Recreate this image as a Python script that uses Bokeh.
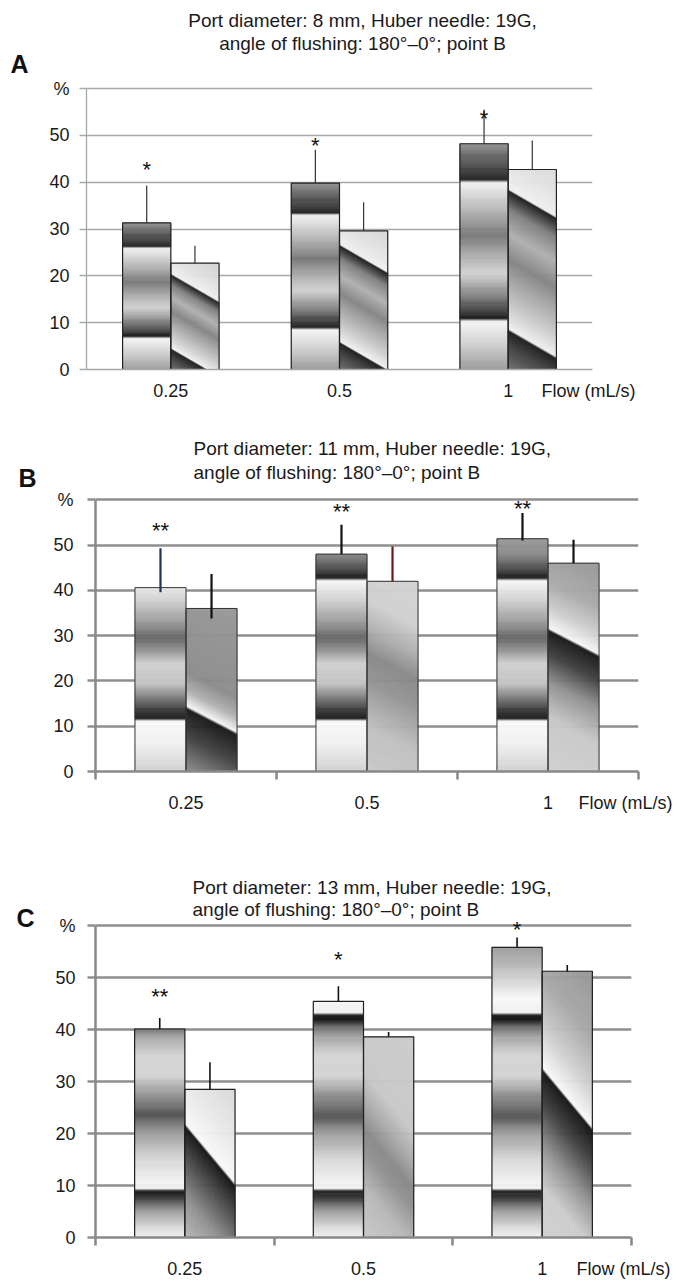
import numpy as np
from bokeh.plotting import figure
from bokeh.models import Range1d, FixedTicker, Label, ColumnDataSource, LinearAxis
from bokeh.layouts import column
from bokeh.embed import file_html
from bokeh.resources import INLINE
from bokeh.core.properties import value

FONT = "Liberation Sans"

categories = ["0.25", "0.5", "1"]
y_ticks = [0, 10, 20, 30, 40, 50, 60]

# Panel A: port 8 mm
a_bar1 = [31.3, 39.8, 48.2]
a_bar2 = [22.7, 29.6, 42.7]
a_err1_hi = [39.3, 46.9, 55.5]
a_err2_hi = [26.4, 35.7, 48.9]
a_marks = ["*", "*", "*"]
a_mark_y = [42.7, 47.8, 53.7]

# Panel B: port 11 mm
b_bar1 = [40.6, 48.0, 51.4]
b_bar2 = [36.0, 42.0, 46.0]
b_err1_lo = [39.6, 48.0, 51.0]
b_err1_hi = [49.3, 54.5, 57.1]
b_err2_lo = [33.8, 42.0, 46.0]
b_err2_hi = [43.6, 49.7, 51.2]
b_marks = ["**", "**", "**"]
b_mark_y = [53.2, 57.5, 58.1]

# Panel C: port 13 mm
c_bar1 = [40.1, 45.4, 55.8]
c_bar2 = [28.5, 38.6, 51.2]
c_err1_hi = [42.2, 48.3, 57.7]
c_err2_hi = [33.7, 39.5, 52.4]
c_marks = ["**", "*", "*"]
c_mark_y = [46.3, 53.5, 59.3]

titles = {
    "A": ["Port diameter: 8 mm, Huber needle: 19G,", "angle of flushing: 180°\u20130°; point B"],
    "B": ["Port diameter: 11 mm, Huber needle: 19G,", "angle of flushing: 180°\u20130°; point B"],
    "C": ["Port diameter: 13 mm, Huber needle: 19G,", "angle of flushing: 180°\u20130°; point B"],
}

# ---- styling: metallic fills, as (position, grey level) stops ----
grad_a = [(0.00, 0x9a), (0.11, 0xcf), (0.215, 0xf5), (0.228, 0x1c), (0.26, 0x40),
          (0.336, 0x8a), (0.426, 0xd2), (0.50, 0xb0), (0.596, 0x78), (0.68, 0xa8),
          (0.744, 0xc8), (0.83, 0xf2), (0.842, 0x1e), (0.88, 0x40), (0.95, 0x6a),
          (1.00, 0x92)]
grad_b = [(0, 0xd0), (6, 0xf0), (11.2, 0xfa), (11.8, 0x1a), (13.5, 0x38), (16.5, 0x80),
          (19.5, 0xc4), (24, 0xd0), (27, 0x90), (29.6, 0x66), (33, 0x9a), (38, 0xd2),
          (42.2, 0xf8), (42.8, 0x1c), (45, 0x50), (48, 0x8a), (55, 0xa8)]
grad_c = [(0, 0xf0), (2, 0xdc), (5, 0xa0), (7.5, 0x44), (9.0, 0x1a), (9.5, 0xf5),
          (11, 0xf0), (15, 0xd8), (20, 0xa0), (23.5, 0x55), (27, 0x8a), (31, 0xd2),
          (35, 0xd5), (38.5, 0xa8), (40.5, 0x70), (41.8, 0x1a), (42.8, 0x22),
          (43.3, 0xf0), (46, 0xf8), (50, 0xd0), (55, 0xa0), (60, 0x90)]
# second bar: diagonal bands (position measured where a band meets the bar's left edge)
diag_a = [[(0.0, 0x70), (0.12, 0x40), (0.195, 0x1c), (0.205, 0xf0), (0.30, 0xd0),
           (0.45, 0xa4), (0.55, 0x84), (0.68, 0xb0), (0.80, 0x80), (0.895, 0x1c),
           (0.905, 0xf0), (1.05, 0xe0), (1.40, 0xc8)]] * 3
diag_b = [[(0, 0x90), (8, 0x40), (14, 0x18), (14.6, 0xf5), (18, 0xb0), (22, 0x8c),
           (36, 0x94), (50, 0xa0)],
          [(0, 0xc8), (10, 0xc0), (20, 0x94), (26, 0x88), (32, 0xb0), (38, 0xd0),
           (70, 0xd4)],
          [(0, 0xd0), (12, 0xc8), (20, 0x90), (26, 0x40), (31.2, 0x18), (31.8, 0xf5),
           (36, 0xd0), (42, 0xaa), (50, 0x9a), (80, 0x99)]]
diag_c = [[(0, 0xb8), (8, 0x90), (15, 0x50), (21.5, 0x14), (22.1, 0xf8), (30, 0xe8),
           (40, 0xd8), (90, 0xd0)],
          [(0, 0xc8), (10, 0xb8), (17, 0x90), (21, 0x88), (26, 0xa8), (32, 0xc8),
           (90, 0xd2)],
          [(0, 0xd0), (10, 0xcc), (18, 0x90), (26, 0x40), (32.2, 0x14), (32.8, 0xf8),
           (40, 0xd0), (50, 0xa8), (60, 0x99), (120, 0x99)]]

W = 679


def grey(levels):
    return ["#%02x%02x%02x" % (v, v, v) for v in levels]


def clip(poly, a, b, c):
    """keep the part of a convex polygon where a*x + b*y <= c"""
    out = []
    n = len(poly)
    for i in range(n):
        P, Q = poly[i], poly[(i + 1) % n]
        fp = a * P[0] + b * P[1] - c
        fq = a * Q[0] + b * Q[1] - c
        if fp <= 0:
            out.append(P)
        if fp * fq < 0:
            t = fp / (fp - fq)
            out.append((P[0] + t * (Q[0] - P[0]), P[1] + t * (Q[1] - P[1])))
    return out


def panel(letter, page_top, h, frame, bw, bar1, bar2, lo1, hi1, lo2, hi2,
          marks, mark_y, st):
    fl, fr, y60, fb = frame          # page pixels: left, right, 60-line, 0-line
    y_end = 60.0 * (fb - page_top) / (fb - y60)
    p = figure(width=W, height=h, x_range=Range1d(0, 3), y_range=Range1d(0, y_end),
               output_backend="svg", toolbar_location=None,
               min_border_left=fl, min_border_right=W - fr,
               min_border_top=0, min_border_bottom=page_top + h - fb)
    try:
        p.frame_align = False
    except Exception:
        pass
    p.outline_line_color = None
    p.background_fill_color = "white"
    p.border_fill_color = "white"

    def dx(px):
        return (px - fl) / (fr - fl) * 3.0

    def dy(py):
        return (fb - py) / (fb - y60) * 60.0

    xc = np.arange(len(categories)) + 0.5
    src = ColumnDataSource(dict(
        x1=xc - bw / 2, x2=xc + bw / 2, b1=bar1, b2=bar2,
        lo1=lo1, hi1=hi1, lo2=lo2, hi2=hi2,
        c1=st["ec1"], c2=st["ec2"], m=marks, my=mark_y))

    # horizontal chrome bands inside the first bar of each pair
    gpos = [g[0] for g in st["grad"]]
    gval = [g[1] for g in st["grad"]]
    L, R, B, T, C = [], [], [], [], []
    for x, top in zip(xc - bw / 2, bar1):
        n = int(np.ceil(top / 0.2))
        edges = np.linspace(0, top, n + 1)
        mids = (edges[:-1] + edges[1:]) / 2
        pos = mids / top if st["relative"] else mids
        g = np.interp(pos, gpos, gval).round().astype(int)
        L += [x - bw / 2] * n
        R += [x + bw / 2] * n
        B += list(edges[:-1])
        T += list(edges[1:])
        C += grey(g)
    p.quad(left=L, right=R, bottom=B, top=T, fill_color=C, line_color=C, line_width=0.6)

    # diagonal chrome bands inside the second bar of each pair
    k = st["slope"] * ((fr - fl) / 3.0) / ((fb - y60) / 60.0)
    XS, YS, DC = [], [], []
    for x, top, stops in zip(xc + bw / 2, bar2, st["diag"]):
        xl, xr = x - bw / 2, x + bw / 2
        rect = [(xl, 0.0), (xr, 0.0), (xr, top), (xl, top)]
        umax = top + k * bw
        n = int(np.ceil(umax / 0.2))
        edges = np.linspace(0, umax, n + 1)
        spos = [s[0] for s in stops]
        sval = [s[1] for s in stops]
        for u0, u1 in zip(edges[:-1], edges[1:]):
            poly = clip(rect, k, 1.0, u1 + k * xl)
            poly = clip(poly, -k, -1.0, -(u0 + k * xl))
            if len(poly) < 3:
                continue
            um = (u0 + u1) / 2
            pos = um / top if st["diag_rel"] else um
            v = int(round(float(np.interp(pos, spos, sval))))
            XS.append([q[0] for q in poly])
            YS.append([q[1] for q in poly])
            DC.append("#%02x%02x%02x" % (v, v, v))
    p.patches(xs=XS, ys=YS, fill_color=DC, line_color=DC, line_width=0.6)

    p.vbar(x="x1", top="b1", bottom=0, width=bw, source=src,
           fill_color=None, line_color=st["bl"], line_width=st["blw"])
    p.vbar(x="x2", top="b2", bottom=0, width=bw, source=src,
           fill_color=None, line_color=st["bl"], line_width=st["blw"])
    p.segment(x0="x1", x1="x1", y0="lo1", y1="hi1", source=src,
              line_color="c1", line_width=st["ew"])
    p.segment(x0="x2", x1="x2", y0="lo2", y1="hi2", source=src,
              line_color="c2", line_width=st["ew"])
    p.text(x="x1", y="my", text="m", source=src, text_align="center",
           text_baseline="middle", text_font=value(FONT),
           text_font_size="22px", text_color="#111111")

    # y axis
    yax = p.yaxis[0]
    yax.ticker = FixedTicker(ticks=y_ticks)
    yax.bounds = (0, 60)
    yax.major_label_overrides = {60: "%"}
    yax.axis_line_color = st["ax"]
    yax.axis_line_width = st["axw"]
    yax.major_tick_line_color = st["grid"]
    yax.major_tick_line_width = st["gw"]
    yax.major_tick_out = st["yto"]
    yax.major_tick_in = 0
    yax.minor_tick_line_color = None
    yax.major_label_standoff = st["ystand"]
    yax.major_label_text_font = FONT
    yax.major_label_text_font_size = "18px"
    yax.major_label_text_color = "#1a1a1a"

    # panel letter, as the label of an outer left axis
    lv = round(dy(st["letter_y"]), 3)
    lax = LinearAxis(ticker=FixedTicker(ticks=[lv]), major_label_overrides={lv: letter},
                     axis_line_color=None, major_tick_line_color=None,
                     minor_tick_line_color=None, major_tick_out=0, major_tick_in=0,
                     major_label_standoff=st["lstand"], major_label_text_font=FONT,
                     major_label_text_font_style="bold",
                     major_label_text_font_size="25px", major_label_text_color="#111111")
    p.add_layout(lax, "left")

    # x axis: category labels and the axis title as one more tick label
    fv = round(dx(st["flow_x"]), 3)
    xax = p.xaxis[0]
    xax.ticker = FixedTicker(ticks=list(xc) + [fv], minor_ticks=st["xminor"])
    labels = {float(v): c for v, c in zip(xc, categories)}
    labels[fv] = "Flow (mL/s)"
    xax.major_label_overrides = labels
    xax.bounds = (0, 3)
    xax.axis_line_color = st["ax"]
    xax.axis_line_width = st["axw"]
    xax.major_tick_out = 0
    xax.major_tick_in = 0
    xax.major_tick_line_color = None
    xax.minor_tick_line_color = st["ax"]
    xax.minor_tick_line_width = st["axw"]
    xax.minor_tick_out = 8
    xax.minor_tick_in = 0
    xax.major_label_standoff = st["xstand"]
    xax.major_label_text_font = FONT
    xax.major_label_text_font_size = "18px"
    xax.major_label_text_color = "#1a1a1a"

    p.xgrid.visible = False
    p.ygrid.ticker = FixedTicker(ticks=y_ticks)
    p.ygrid.grid_line_color = st["grid"]
    p.ygrid.grid_line_width = st["gw"]
    p.ygrid.level = "underlay"

    # panel title (two lines)
    tx, talign = st["title_x"], st["title_align"]
    for t, ty in zip(titles[letter], st["title_y"]):
        p.add_layout(Label(x=dx(tx), y=dy(ty), text=t, text_align=talign,
                           text_baseline="middle", text_font=FONT,
                           text_font_size="19px", text_color="#1a1a1a"))
    return p


sa = dict(grad=grad_a, relative=True, diag=diag_a, diag_rel=True, slope=0.58,
          bl="#222222", blw=1.2,
          ec1=["#333333"] * 3, ec2=["#333333"] * 3, ew=1.2,
          ax="#a8a8a8", axw=1.3, grid="#a8a8a8", gw=1.3, yto=7, ystand=10,
          xminor=[], xstand=11, lstand=18, letter_y=63,
          title_x=362, title_align="center", title_y=(20, 43), flow_x=588)
sb = dict(grad=grad_b, relative=False, diag=diag_b, diag_rel=False, slope=0.52,
          bl="#333333", blw=1.0,
          ec1=["#1f3550", "#111111", "#111111"],
          ec2=["#111111", "#6a1c1c", "#111111"], ew=2.2,
          ax="#888888", axw=2.5, grid="#8f8f8f", gw=2.5, yto=8, ystand=14,
          xminor=[0, 1, 2, 3], xstand=13, lstand=14, letter_y=478,
          title_x=193, title_align="left", title_y=(448, 472), flow_x=625)
sc = dict(grad=grad_c, relative=False, diag=diag_c, diag_rel=False, slope=1.2,
          bl="#222222", blw=1.2,
          ec1=["#111111"] * 3, ec2=["#111111"] * 3, ew=1.6,
          ax="#888888", axw=2.5, grid="#8f8f8f", gw=2.5, yto=8, ystand=12,
          xminor=[0, 1, 2, 3], xstand=13, lstand=18, letter_y=917,
          title_x=192, title_align="left", title_y=(887, 909), flow_x=623)

pa = panel("A", 0, 420, (86, 592, 88, 369), 0.286, a_bar1, a_bar2,
           a_bar1, a_err1_hi, a_bar2, a_err2_hi, a_marks, a_mark_y, sa)
pb = panel("B", 420, 425, (95, 638, 499.3, 771), 0.282, b_bar1, b_bar2,
           b_err1_lo, b_err1_hi, b_err2_lo, b_err2_hi, b_marks, b_mark_y, sb)
pc = panel("C", 845, 440, (95, 631, 925, 1237), 0.281, c_bar1, c_bar2,
           c_bar1, c_err1_hi, c_bar2, c_err2_hi, c_marks, c_mark_y, sc)

layout = column(pa, pb, pc, spacing=0)
open("out.html", "w").write(file_html(layout, INLINE))
